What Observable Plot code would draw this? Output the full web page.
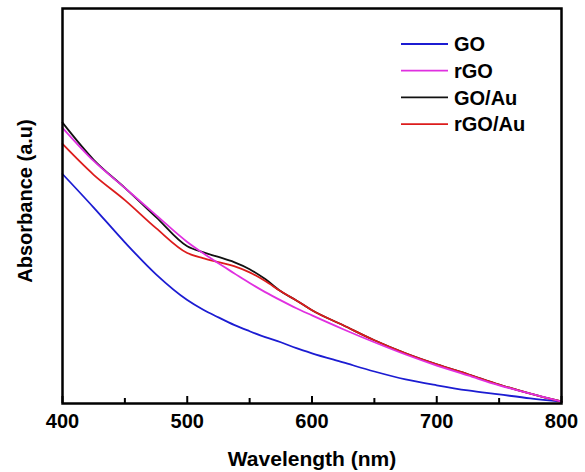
<!DOCTYPE html>
<html><head><meta charset="utf-8">
<script src="https://cdn.jsdelivr.net/npm/d3@7"></script>
<script src="https://cdn.jsdelivr.net/npm/@observablehq/plot@0.6"></script>
<style>
body{margin:0;background:#fff;}
#wrap{position:relative;width:585px;height:472px;}
#legend{position:absolute;left:0;top:0;}
</style></head><body><div id="wrap"></div>
<script>
const wavelengths = [400,425,450,475,500,512.5,525,537.5,550,562.5,575,587.5,600,625,650,675,700,725,750,775,800];
const seriesNames = ["GO","rGO","GO/Au","rGO/Au"];
const seriesColors = ["#1c1cd2","#e030e0","#111111","#dc1c1c"];
const GO    = [0.581,0.496,0.408,0.327,0.262,0.238,0.218,0.199,0.183,0.168,0.155,0.140,0.127,0.104,0.081,0.061,0.046,0.033,0.023,0.013,0.005];
const rGO   = [0.698,0.614,0.546,0.477,0.409,0.381,0.355,0.330,0.305,0.282,0.261,0.241,0.223,0.188,0.155,0.124,0.096,0.071,0.046,0.025,0.005];
const GOAu  = [0.711,0.617,0.546,0.472,0.398,0.383,0.371,0.358,0.340,0.315,0.284,0.261,0.236,0.198,0.160,0.127,0.099,0.074,0.048,0.025,0.005];
const rGOAu = [0.657,0.579,0.515,0.444,0.381,0.368,0.358,0.348,0.332,0.310,0.284,0.261,0.236,0.198,0.160,0.127,0.099,0.074,0.048,0.025,0.005];
const xTicks = [400,500,600,700,800];
const xMinorTicks = [450,550,650,750];

const seriesValues = {"GO":GO,"rGO":rGO,"GO/Au":GOAu,"rGO/Au":rGOAu};
const drawOrder = ["GO","GO/Au","rGO/Au","rGO"];
const rows = [];
for (const s of drawOrder) seriesValues[s].forEach((v,i)=>rows.push({series:s, wavelength:wavelengths[i], absorbance:v}));

const frameH = 472 - 8 - 69;
const plot = Plot.plot({
  width:585, height:472, marginLeft:62, marginRight:24, marginTop:8, marginBottom:69,
  style:{fontFamily:"'Liberation Sans', Arial, sans-serif", fontWeight:"bold", fontSize:"20px", color:"#000", background:"#fff"},
  x:{domain:[400,800]},
  y:{domain:[0,1], axis:null},
  color:{domain:seriesNames, range:seriesColors},
  marks:[
    Plot.lineY(rows,{x:"wavelength", y:"absorbance", z:"series", stroke:"series", strokeWidth:1.8, curve:"monotone-x"}),
    Plot.tickX(xTicks,{x:d=>d, insetTop:frameH-7, strokeWidth:2, stroke:"#000"}),
    Plot.tickX(xMinorTicks,{x:d=>d, insetTop:frameH-5, strokeWidth:2, stroke:"#000"}),
    Plot.frame({stroke:"#000", strokeWidth:2.5}),
    Plot.axisX(xTicks,{tickSize:0, tickPadding:10, label:null, fontSize:20}),
    Plot.text(["Wavelength (nm)"],{frameAnchor:"bottom", dy:62, fontSize:21}),
    Plot.text(["Absorbance (a.u)"],{frameAnchor:"left", textAnchor:"middle", rotate:-90, dx:-37, dy:-5, fontSize:20})
  ]
});
const wrap = document.getElementById("wrap");
wrap.appendChild(plot);

// legend overlay
const lg = d3.select(wrap).append("svg").attr("id","legend").attr("width",585).attr("height",472)
  .style("font-family","'Liberation Sans', Arial, sans-serif").style("font-weight","bold").style("font-size","20px");
const items = lg.selectAll("g").data(seriesNames).join("g")
  .attr("transform",(d,i)=>`translate(401,${44+i*26.7})`);
items.append("line").attr("x1",0).attr("x2",47).attr("y1",0).attr("y2",0)
  .attr("stroke",(d,i)=>seriesColors[i]).attr("stroke-width",1.8);
items.append("text").attr("x",53).attr("dy","0.36em").text(d=>d);
</script></body></html>
